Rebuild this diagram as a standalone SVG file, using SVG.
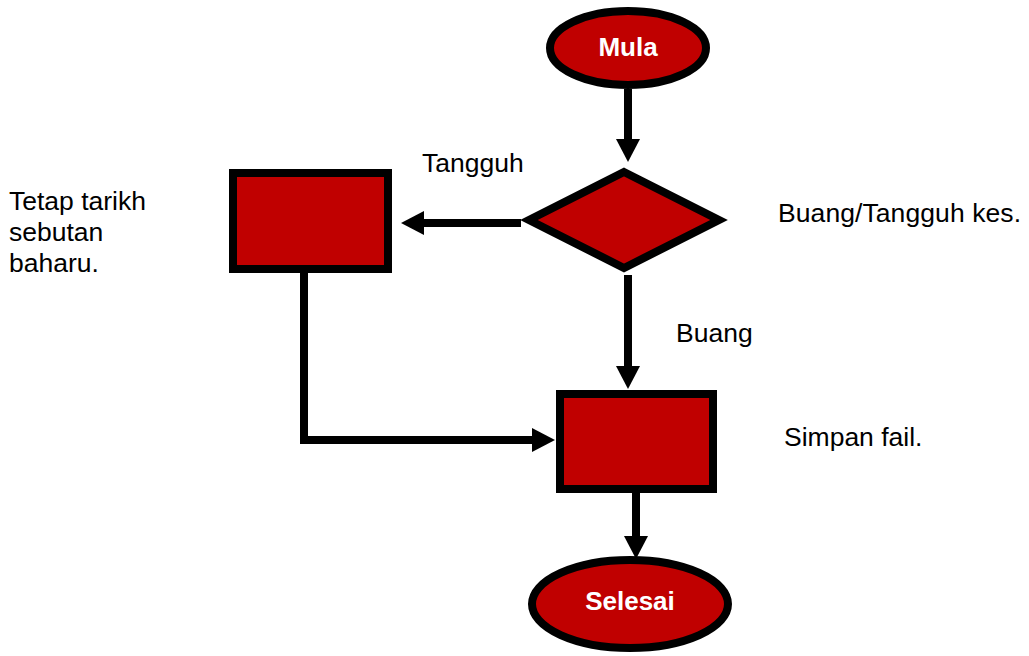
<svg xmlns="http://www.w3.org/2000/svg" width="1029" height="656" viewBox="0 0 1029 656">
  <style>
    .shape { fill: #C00000; stroke: #000; stroke-width: 8; }
    .conn { fill: none; stroke: #000; stroke-width: 8; marker-end: url(#arrow); }
    .term { font-family: "Liberation Sans", Arial, sans-serif; font-weight: bold; font-size: 26px; fill: #fff; text-anchor: middle; }
    .lbl { font-family: "Liberation Sans", Arial, sans-serif; font-size: 26.5px; fill: #000; }
  </style>
  <defs>
    <marker id="arrow" markerUnits="userSpaceOnUse" markerWidth="24" markerHeight="24" viewBox="0 0 24 24" refX="1" refY="12" orient="auto">
      <path d="M0,0 L23,12 L0,24 Z" fill="#000"/>
    </marker>
  </defs>
  <rect width="1029" height="656" fill="#fff"/>

  <g id="connectors">
    <path class="conn" d="M628,89 L628,140"/>
    <path class="conn" d="M521,223 L423,223"/>
    <path class="conn" d="M628,275 L628,367"/>
    <path class="conn" d="M304,273 L304,440 L533,440"/>
    <path class="conn" d="M636,493 L636,537"/>
  </g>

  <g id="mula">
    <ellipse class="shape" cx="628" cy="48" rx="78" ry="37"/>
    <text class="term" x="628" y="56">Mula</text>
  </g>

  <g id="decision">
    <polygon class="shape" points="624,172 719,220 624,268 529,220"/>
  </g>

  <g id="tetap">
    <rect class="shape" x="233" y="173" width="155" height="96"/>
  </g>

  <g id="simpan">
    <rect class="shape" x="560" y="394" width="153" height="95"/>
  </g>

  <g id="selesai">
    <ellipse class="shape" cx="630" cy="604" rx="98" ry="44"/>
    <text class="term" x="630" y="610">Selesai</text>
  </g>

  <g id="labels">
    <text class="lbl" x="422" y="172">Tangguh</text>
    <text class="lbl" x="778" y="222" textLength="243">Buang/Tangguh kes.</text>
    <text class="lbl" x="676" y="342">Buang</text>
    <text class="lbl" x="784" y="446">Simpan fail.</text>
    <text class="lbl" x="9" y="210">Tetap tarikh</text>
    <text class="lbl" x="9" y="241">sebutan</text>
    <text class="lbl" x="9" y="272">baharu.</text>
  </g>
</svg>
